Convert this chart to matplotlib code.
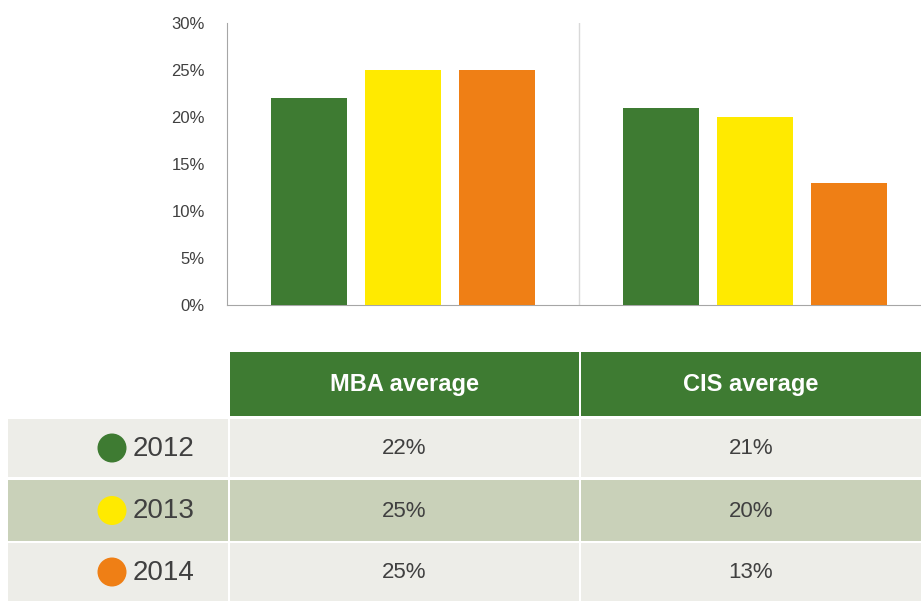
import matplotlib.pyplot as plt
from matplotlib.patches import Rectangle, Circle
import matplotlib.ticker as mticker
import numpy as np

# Share of respondents, by programme and survey year
programs = ["MBA average", "CIS average"]
years = ["2012", "2013", "2014"]
mba_values = [22, 25, 25]
cis_values = [21, 20, 13]
year_colors = ["#3e7b32", "#ffea00", "#ef7f15"]
y_ticks = [0, 5, 10, 15, 20, 25, 30]

W, H = 921, 601
fig = plt.figure(figsize=(W / 100, H / 100), dpi=100)
plt.rcParams["font.family"] = ["Liberation Sans", "DejaVu Sans"]

# --- bar chart (pixel box: x 227..921, y 23..305) ---
ax = fig.add_axes([227 / W, (H - 305) / H, (W - 227) / W, (305 - 23) / H])
x = np.arange(len(programs))
width = 0.216
step = 0.267
values = np.array([mba_values, cis_values]).T  # rows: years
for i, (yr, col) in enumerate(zip(years, year_colors)):
    ax.bar(x + (i - 1) * step, values[i], width=width, color=col, label=yr, zorder=3)

ax.set_xlim(-0.5, 1.4716)
ax.set_ylim(0, 30)
ax.set_yticks(y_ticks)
ax.yaxis.set_major_formatter(mticker.FuncFormatter(lambda v, p: f"{v:.0f}%"))
ax.set_xticks([])
ax.tick_params(axis="y", length=0, pad=16, labelsize=12, labelcolor="#404040")
for side in ["top", "right"]:
    ax.spines[side].set_visible(False)
ax.spines["left"].set_color("#a6a6a6")
ax.spines["bottom"].set_color("#a6a6a6")
ax.axvline(0.5, color="#d9d9d9", lw=1, zorder=1)

# --- data table below the chart, drawn in pixel coordinates ---
tab = fig.add_axes([0, 0, 1, 1], zorder=-1)
tab.set_xlim(0, W)
tab.set_ylim(H, 0)
tab.axis("off")

green = "#3e7b32"
row_bg = ["#ededE8", "#c9d1b9", "#ededE8"]
col_x = [(8, 228), (230, 579), (581, 921)]
header_y = (352, 416)
row_y = [(419, 477), (480, 541), (543, 601)]

for (x0, x1), name in zip(col_x[1:], programs):
    tab.add_patch(Rectangle((x0, header_y[0]), x1 - x0, header_y[1] - header_y[0],
                            color=green, lw=0))
    tab.text((x0 + x1) / 2, (header_y[0] + header_y[1]) / 2 + 1, name,
             color="white", fontsize=17, fontweight="bold",
             ha="center", va="center")

for r, (y0, y1) in enumerate(row_y):
    for x0, x1 in col_x:
        tab.add_patch(Rectangle((x0, y0), x1 - x0, y1 - y0, color=row_bg[r], lw=0))
    yc = (y0 + y1) / 2
    tab.add_patch(Circle((112, yc), 14.5, color=year_colors[r], lw=0))
    tab.text(133, yc + 1, years[r], fontsize=20, color="#404040",
             ha="left", va="center")
    for (x0, x1), vals in zip(col_x[1:], [mba_values, cis_values]):
        tab.text((x0 + x1) / 2, yc + 1, f"{vals[r]}%", fontsize=16,
                 color="#404040", ha="center", va="center")

fig.savefig("out.png", dpi=100)
